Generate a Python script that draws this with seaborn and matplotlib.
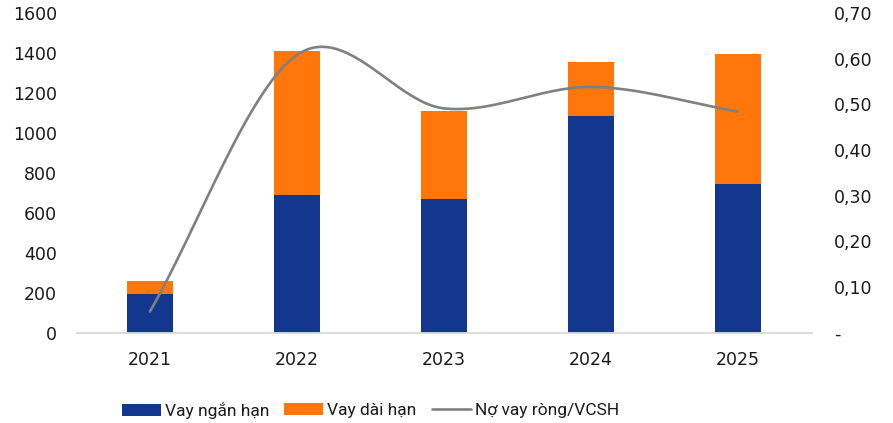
import numpy as np
import pandas as pd
import matplotlib
matplotlib.use("Agg")
import matplotlib.pyplot as plt
import seaborn as sns
from matplotlib.patches import Patch
from matplotlib.lines import Line2D

# Chart data
years = ["2021", "2022", "2023", "2024", "2025"]
vay_ngan_han = [192, 688, 667, 1085, 746]
vay_dai_han = [64, 721, 441, 269, 647]
no_vay_rong_vcsh = [0.046, 0.608, 0.491, 0.538, 0.484]

left_ticks = [0, 200, 400, 600, 800, 1000, 1200, 1400, 1600]
right_ticks = [0.0, 0.1, 0.2, 0.3, 0.4, 0.5, 0.6, 0.7]
legend_labels = ["Vay ngắn hạn", "Vay dài hạn", "Nợ vay ròng/VCSH"]

c_short = "#13368F"
c_long = "#FF760A"
c_line = "#808080"
c_text = "#1a1a1a"

sns.set_theme(style="white")
plt.rcParams["font.family"] = ["DejaVu Sans"]

df = pd.DataFrame({
    "year": years,
    "short": vay_ngan_han,
    "long": vay_dai_han,
})
df["total"] = df["short"] + df["long"]

fig = plt.figure(figsize=(8.93, 4.23), dpi=100)
ax = fig.add_axes([76.5 / 893, 1 - 332.5 / 423, (811.5 - 76.5) / 893, (332.5 - 13) / 423])

# Stacked bars: full height in orange, short-term portion drawn over it
sns.barplot(data=df, x="year", y="total", color=c_long, width=0.313,
            saturation=1, ax=ax, linewidth=0)
sns.barplot(data=df, x="year", y="short", color=c_short, width=0.313,
            saturation=1, ax=ax, linewidth=0)

ax.set_xlim(-0.5, 4.5)
ax.set_ylim(0, 1600)
ax.set_yticks(left_ticks)
ax.set_yticklabels([str(t) for t in left_ticks])
ax.set_xlabel("")
ax.set_ylabel("")
for s in ["top", "right", "left"]:
    ax.spines[s].set_visible(False)
ax.spines["bottom"].set_color("#D9D9D9")
ax.spines["bottom"].set_linewidth(1.3)
ax.tick_params(axis="y", length=0, pad=14, labelsize=12.5, labelcolor=c_text)
ax.tick_params(axis="x", length=0, pad=13, labelsize=12.5, labelcolor=c_text)

# Smoothed ratio line (cardinal spline through the yearly points,
# with full-chord tangents at both ends)
ax2 = ax.twinx()
pts = np.array(no_vay_rong_vcsh, dtype=float)
n = len(pts)
tang = np.empty(n)
tang[0] = pts[1] - pts[0]
tang[-1] = pts[-1] - pts[-2]
tang[1:-1] = (pts[2:] - pts[:-2]) / 2
xs, ys = [], []
t = np.linspace(0, 1, 50)
h00 = 2 * t**3 - 3 * t**2 + 1
h10 = t**3 - 2 * t**2 + t
h01 = -2 * t**3 + 3 * t**2
h11 = t**3 - t**2
for i in range(n - 1):
    xs.extend(i + t)
    ys.extend(h00 * pts[i] + h10 * tang[i] + h01 * pts[i + 1] + h11 * tang[i + 1])
curve = pd.DataFrame({"x": xs, "y": ys})
sns.lineplot(data=curve, x="x", y="y", ax=ax2, color=c_line, linewidth=1.9,
             sort=False, estimator=None)

ax2.set_ylim(0, 0.7)
ax2.set_yticks(right_ticks)
ax2.set_yticklabels(["-" if v == 0 else f"{v:.2f}".replace(".", ",") for v in right_ticks])
ax2.set_xlim(-0.5, 4.5)
ax2.set_xlabel("")
ax2.set_ylabel("")
for s in ["top", "right", "left", "bottom"]:
    ax2.spines[s].set_visible(False)
ax2.tick_params(axis="y", length=0, pad=16, labelsize=12.5, labelcolor=c_text)

# Legend entries along the bottom
handles = [
    Patch(facecolor=c_short, edgecolor="none"),
    Patch(facecolor=c_long, edgecolor="none"),
    Line2D([0], [0], color=c_line, linewidth=1.9),
]
starts = [122, 284, 432]
for h, lab, x0 in zip(handles, legend_labels, starts):
    leg = fig.legend([h], [lab], loc="center left",
                     bbox_to_anchor=(x0 / 893, 1 - 410.5 / 423), frameon=False,
                     borderpad=0, borderaxespad=0, handlelength=2.25,
                     handleheight=0.72, handletextpad=0.25,
                     prop={"family": ["Roboto", "DejaVu Sans"], "size": 12.5})
    for txt in leg.get_texts():
        txt.set_color(c_text)

fig.savefig("out.png", dpi=100)
